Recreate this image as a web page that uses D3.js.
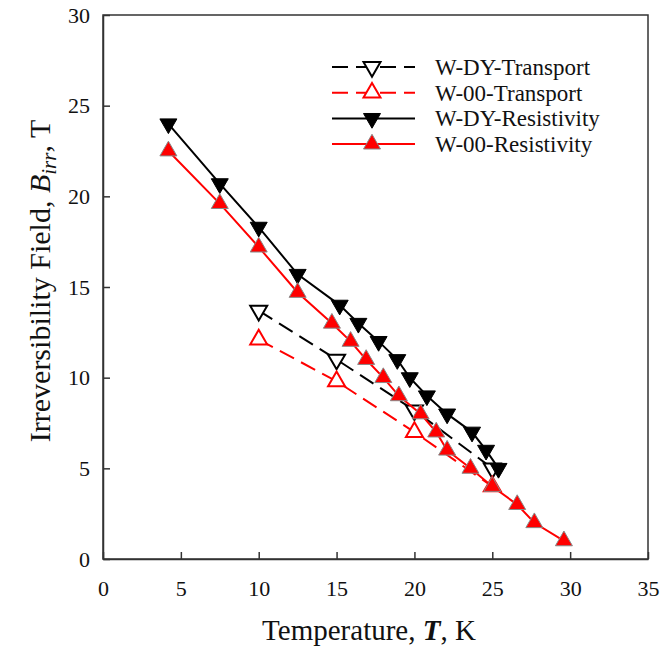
<!DOCTYPE html>
<html>
<head>
<meta charset="utf-8">
<script src="https://cdn.jsdelivr.net/npm/d3@7"></script>
<style>
  body { margin: 0; background: #fff; }
  svg { font-family: "Liberation Serif", "Times New Roman", serif; }
</style>
</head>
<body>
<svg id="chart"></svg>
<script>
// Data (T in K, B_irr in T)
const dyTransT = [10, 15, 20, 25];
const dyTransB = [13.7, 11.0, 8.2, 5.0];

const w00TransT = [10, 15, 20, 25];
const w00TransB = [12.1, 9.8, 7.0, 4.0];

const dyResT = [4.2, 7.5, 10, 12.5, 15.2, 16.4, 17.7, 18.9, 19.7, 20.8, 22.1, 23.7, 24.6, 25.4];
const dyResB = [24.0, 20.7, 18.3, 15.7, 14.0, 13.0, 12.0, 11.0, 10.0, 9.0, 8.0, 7.0, 6.0, 5.0];

const w00ResT = [4.2, 7.5, 10, 12.5, 14.7, 15.9, 16.9, 18.0, 19.0, 20.4, 21.4, 22.1, 23.6, 25.0, 26.6, 27.7, 29.6];
const w00ResB = [22.5, 19.6, 17.2, 14.7, 13.0, 12.0, 11.0, 10.0, 9.0, 8.0, 7.0, 6.0, 5.0, 4.0, 3.0, 2.0, 1.0];

const xTicks = [0, 5, 10, 15, 20, 25, 30, 35];
const yTicks = [0, 5, 10, 15, 20, 25, 30];

const seriesNames = ["W-DY-Transport", "W-00-Transport", "W-DY-Resistivity", "W-00-Resistivity"];

const series = [
  { name: seriesNames[0], t: dyTransT, b: dyTransB, color: "#000", dash: "16,8", open: true, down: true },
  { name: seriesNames[1], t: w00TransT, b: w00TransB, color: "#f00", dash: "16,8", open: true, down: false },
  { name: seriesNames[2], t: dyResT, b: dyResB, color: "#000", dash: null, open: false, down: true },
  { name: seriesNames[3], t: w00ResT, b: w00ResB, color: "#f00", dash: null, open: false, down: false },
];

// Dimensions
const W = 662, H = 657;
const margin = { top: 15, right: 14, bottom: 98, left: 103 };
const width = W - margin.left - margin.right;
const height = H - margin.top - margin.bottom;

const svg = d3.select("#chart").attr("width", W).attr("height", H);
const g = svg.append("g").attr("transform", `translate(${margin.left},${margin.top})`);

const x = d3.scaleLinear().domain([0, 35]).range([0, width]);
const y = d3.scaleLinear().domain([0, 30]).range([height, 0]);

// Axes with inward ticks
const xAxis = g.append("g")
  .attr("transform", `translate(0,${height})`)
  .call(d3.axisBottom(x).tickValues(xTicks).tickSizeInner(-7).tickSizeOuter(0).tickPadding(20));
const yAxis = g.append("g")
  .call(d3.axisLeft(y).tickValues(yTicks).tickSizeInner(-7).tickSizeOuter(0).tickPadding(13));

[xAxis, yAxis].forEach((a) => {
  a.selectAll("path, line").attr("stroke", "#333").attr("stroke-width", 1.5);
  a.selectAll("text").attr("font-size", 22).attr("fill", "#111")
    .style("font-family", "Liberation Serif, serif");
});
xAxis.selectAll("text").attr("dy", "0.75em");

// Frame
g.append("rect")
  .attr("width", width).attr("height", height)
  .attr("fill", "none").attr("stroke", "#333").attr("stroke-width", 1.5);

const tri = d3.symbol().type(d3.symbolTriangle).size(125);

function drawMarker(sel, s) {
  sel.append("path")
    .attr("d", tri)
    .attr("fill", s.open ? "#fff" : s.color)
    .attr("stroke", s.open ? s.color : (s.color === "#000" ? "#000" : "#888"))
    .attr("stroke-width", s.open ? 2 : 1);
}

const line = d3.line().x((d) => x(d[0])).y((d) => y(d[1]));

// Series lines and markers
series.forEach((s) => {
  const pts = s.t.map((t, i) => [t, s.b[i]]);
  g.append("path")
    .attr("d", line(pts))
    .attr("fill", "none")
    .attr("stroke", s.color)
    .attr("stroke-width", 2)
    .attr("stroke-dasharray", s.dash);
  g.selectAll(null)
    .data(pts)
    .enter()
    .append("g")
    .attr("transform", (d) => `translate(${x(d[0])},${y(d[1])}) rotate(${s.down ? 180 : 0})`)
    .each(function () { drawMarker(d3.select(this), s); });
});

// Legend
const legend = svg.append("g").attr("transform", "translate(332,67)");
series.forEach((s, i) => {
  const row = legend.append("g").attr("transform", `translate(0,${i * 25.7})`);
  row.append("line")
    .attr("x1", 0).attr("x2", 83)
    .attr("stroke", s.color).attr("stroke-width", 2)
    .attr("stroke-dasharray", s.dash);
  const m = row.append("g").attr("transform", `translate(40,0) rotate(${s.down ? 180 : 0})`);
  drawMarker(m, s);
  row.append("text")
    .attr("x", 103).attr("dy", "0.35em")
    .attr("font-size", 23).attr("fill", "#111")
    .text(s.name);
});

// Axis titles
svg.append("text")
  .attr("x", 369).attr("y", 640)
  .attr("text-anchor", "middle")
  .attr("font-size", 29).attr("fill", "#111")
  .call((t) => {
    t.append("tspan").text("Temperature, ");
    t.append("tspan").attr("font-style", "italic").attr("font-weight", "bold").text("T");
    t.append("tspan").text(", K");
  });

svg.append("text")
  .attr("transform", "translate(50,281) rotate(-90)")
  .attr("text-anchor", "middle")
  .attr("font-size", 30).attr("fill", "#111")
  .call((t) => {
    t.append("tspan").text("Irreversibility Field, ");
    t.append("tspan").attr("font-style", "italic").text("B");
    t.append("tspan").attr("font-style", "italic").attr("font-size", 21).attr("dy", 6).text("irr");
    t.append("tspan").attr("dy", -6).text(", T");
  });
</script>
</body>
</html>
